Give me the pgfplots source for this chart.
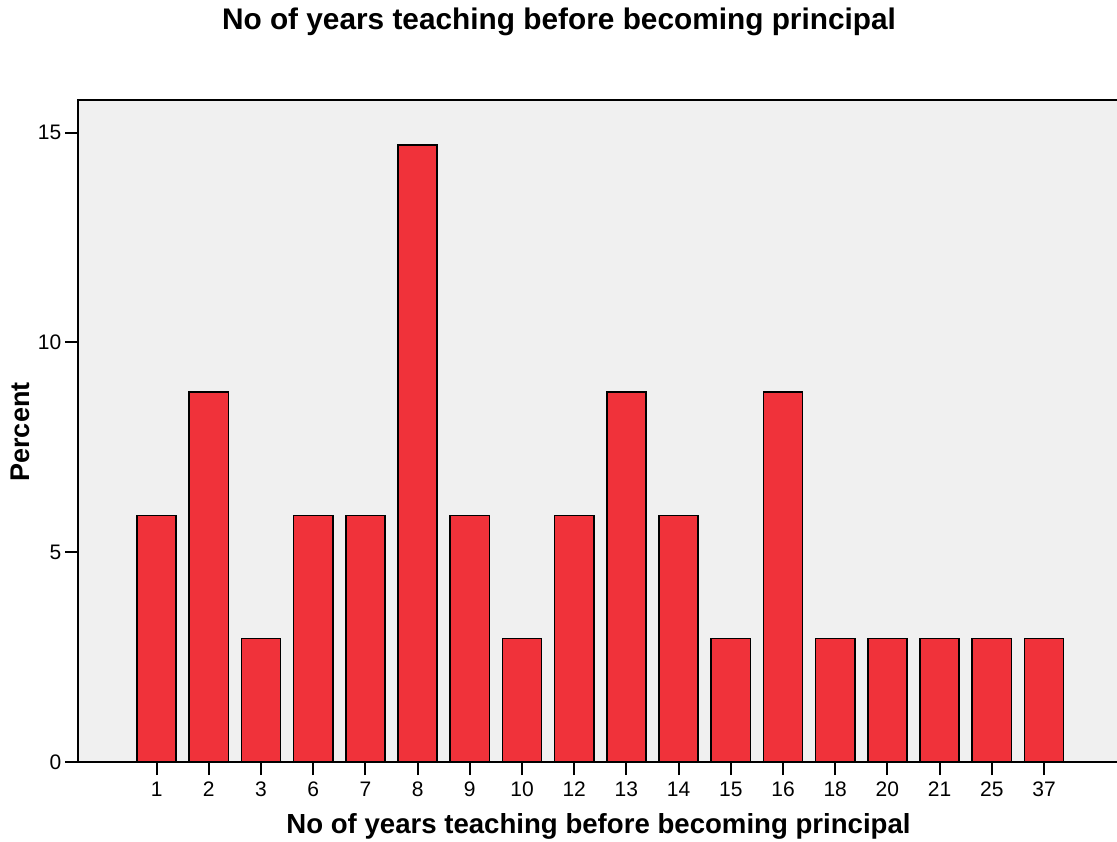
\documentclass[border=0pt]{standalone}
\usepackage{fontspec}
\setmainfont{Liberation Sans}
\usepackage{pgfplots}
\pgfplotsset{compat=1.18}
\definecolor{barred}{RGB}{240,50,58}
\definecolor{bggray}{RGB}{240,240,240}
\begin{document}
\begin{tikzpicture}[x=0.5pt,y=0.5pt]
\useasboundingbox (-78.3,-79) rectangle (1038.7,762);
\begin{axis}[
  at={(0,0)}, anchor=south west,
  scale only axis,
  width=522pt, height=331pt,
  xmin=-1.5, xmax=18.5,
  ymin=0, ymax=15.78,
  axis background/.style={fill=bggray},
  axis line style={line width=1pt, black},
  xtick={0,...,17},
  xticklabels={1,2,3,6,7,8,9,10,12,13,14,15,16,18,20,21,25,37},
  ytick={0,5,10,15},
  xtick pos=bottom, ytick pos=left,
  tick align=outside,
  major tick length=6.5pt,
  tick style={line width=1pt, black},
  ticklabel style={font=\fontsize{10.5}{12}\selectfont},
  yticklabel style={xshift=1.5pt},
  /pgf/number format/assume math mode=true,
]
\addplot[ybar, bar width=0.75, fill=barred, draw=black, line width=0.75pt]
 coordinates {(0,5.88) (1,8.82) (2,2.94) (3,5.88) (4,5.88) (5,14.71) (6,5.88) (7,2.94) (8,5.88) (9,8.82) (10,5.88) (11,2.94) (12,8.82) (13,2.94) (14,2.94) (15,2.94) (16,2.94) (17,2.94)};
\end{axis}
\node[font=\fontsize{14.9}{17}\selectfont\bfseries] at (480.7,740) {No of years teaching before becoming principal};
\node[font=\fontsize{13.8}{16}\selectfont\bfseries] at (520.2,-64) {No of years teaching before becoming principal};
\node[font=\fontsize{13.5}{16}\selectfont\bfseries, rotate=90] at (-58.3,330) {Percent};
\end{tikzpicture}
\end{document}
